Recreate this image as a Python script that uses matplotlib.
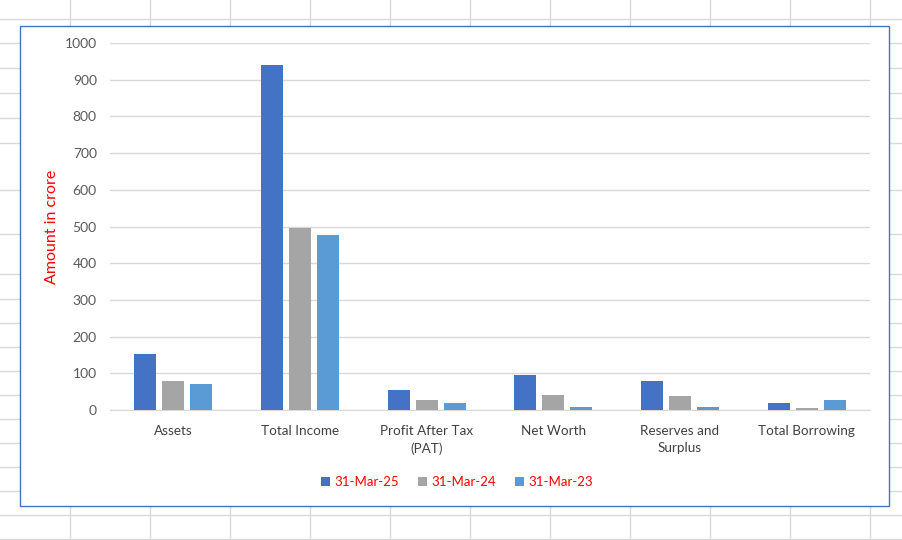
import numpy as np
import matplotlib.pyplot as plt
from matplotlib.patches import Rectangle

# Data
categories = ['Assets', 'Total Income', 'Profit After Tax\n(PAT)', 'Net Worth',
              'Reserves and\nSurplus', 'Total Borrowing']
series_names = ['31-Mar-25', '31-Mar-24', '31-Mar-23']
mar25 = [153, 940, 55, 96, 79, 20]
mar24 = [79, 496, 27, 41, 38, 5]
mar23 = [72, 477, 20, 8, 8, 27]

colors = ['#4472C4', '#A5A5A5', '#5B9BD5']
grid_col = '#D9D9D9'

plt.rcParams['font.family'] = ['Lato', 'DejaVu Sans']

W, H = 903, 540
fig = plt.figure(figsize=(W / 100, H / 100), dpi=100)

# spreadsheet cell grid behind the chart
bg = fig.add_axes([0, 0, 1, 1])
bg.set_xlim(0, W)
bg.set_ylim(H, 0)
bg.axis('off')
col_lines = np.arange(70, 900, 80)
row_lines = [19, 43, 68, 93, 118, 143, 190, 234, 274, 299, 323, 347, 371,
             395, 419, 443, 467, 491, 515, 539]
for x in col_lines:
    bg.axvline(x, color=grid_col, lw=1)
for y in row_lines:
    bg.axhline(y, color=grid_col, lw=1)

# chart area
bg.add_patch(Rectangle((20, 26), 869, 480, facecolor='white',
                       edgecolor='#4472C4', lw=1, zorder=3))

# plot area
ax = fig.add_axes([110 / W, (H - 410) / H, 760 / W, 367 / H], zorder=5)
ax.patch.set_alpha(0)
x = np.arange(len(categories))
step, width = 0.221, 0.174
for i, (vals, name) in enumerate(zip([mar25, mar24, mar23], series_names)):
    ax.bar(x + (i - 1) * step, vals, width, color=colors[i], label=name, zorder=3)

ax.set_xlim(-0.5, len(categories) - 0.5)
ax.set_ylim(0, 1000)
ax.set_yticks(np.arange(0, 1001, 100))
ax.yaxis.grid(True, color=grid_col, lw=1)
ax.set_axisbelow(True)
for s in ['top', 'right', 'left']:
    ax.spines[s].set_visible(False)
ax.spines['bottom'].set_color(grid_col)
ax.tick_params(axis='y', length=0, pad=9.5, labelsize=10, labelcolor='#595959')
ax.tick_params(axis='x', length=0, pad=11, labelsize=9.7, labelcolor='#404040')
ax.set_xticks(x)
ax.set_xticklabels(categories, linespacing=1.5)

fig.text(52 / W, 1 - 227 / H, 'Amount in crore', rotation=90, color='#FF0000',
         fontsize=11.5, ha='center', va='center')

leg = ax.legend(loc='center', bbox_to_anchor=(457 / W, 1 - 482 / H),
                bbox_transform=fig.transFigure, ncol=3, frameon=False,
                fontsize=9.5, handlelength=0.7, handleheight=0.7,
                handletextpad=0.35, columnspacing=1.4)
for t in leg.get_texts():
    t.set_color('#FF0000')

fig.savefig('out.png', dpi=100)
